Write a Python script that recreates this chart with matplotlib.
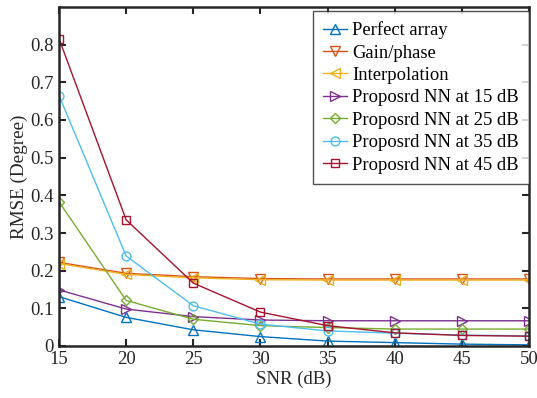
import matplotlib
matplotlib.use("Agg")
import matplotlib.pyplot as plt

plt.rcParams['font.family'] = ['Liberation Serif', 'DejaVu Serif']

snr = [15, 20, 25, 30, 35, 40, 45, 50]
perfect = [0.131, 0.076, 0.043, 0.025, 0.013, 0.009, 0.005, 0.003]
gain_phase = [0.222, 0.193, 0.184, 0.179, 0.178, 0.178, 0.178, 0.178]
interp = [0.219, 0.190, 0.181, 0.176, 0.175, 0.175, 0.175, 0.175]
nn15 = [0.149, 0.098, 0.078, 0.069, 0.067, 0.067, 0.067, 0.067]
nn25 = [0.383, 0.121, 0.071, 0.054, 0.049, 0.045, 0.045, 0.045]
nn35 = [0.665, 0.239, 0.107, 0.058, 0.040, 0.034, 0.029, 0.027]
nn45 = [0.816, 0.335, 0.167, 0.090, 0.054, 0.035, 0.028, 0.026]

labels = ['Perfect array', 'Gain/phase', 'Interpolation',
          'Proposrd NN at 15 dB', 'Proposrd NN at 25 dB',
          'Proposrd NN at 35 dB', 'Proposrd NN at 45 dB']
series = [perfect, gain_phase, interp, nn15, nn25, nn35, nn45]
colors = ['#0072BD', '#D95319', '#EDB120', '#7E2F8E', '#77AC30', '#4DBEEE', '#A2142F']
markers = ['^', 'v', '<', '>', 'D', 'o', 's']
msizes = [7.2, 7.2, 7.2, 7.2, 4.8, 6.4, 5.2]

fig = plt.figure(figsize=(5.37, 3.98), dpi=100)
ax = fig.add_axes([59/537, 1-346/398, 470/537, 339/398])

for y, lab, c, m, ms in zip(series, labels, colors, markers, msizes):
    ax.plot(snr, y, color=c, marker=m, markersize=ms, markerfacecolor='none',
            markeredgewidth=1.0, linewidth=1.0, label=lab)

ax.set_xlim(15, 50)
ax.set_ylim(0, 0.9)
ax.set_xticks([15, 20, 25, 30, 35, 40, 45, 50])
ax.set_yticks([0, 0.1, 0.2, 0.3, 0.4, 0.5, 0.6, 0.7, 0.8])
ax.set_yticklabels(['0', '0.1', '0.2', '0.3', '0.4', '0.5', '0.6', '0.7', '0.8'])
ax.tick_params(direction='in', top=True, right=True, length=5, width=1.5,
               labelsize=13.5, colors='#262626')
ax.tick_params(axis='x', pad=3.5)
ax.tick_params(axis='y', pad=4)
for s in ax.spines.values():
    s.set_linewidth(1.8)
    s.set_color('#262626')
ax.set_xlabel('SNR (dB)', fontsize=13.5, color='#262626', labelpad=2)
ax.set_ylabel('RMSE (Degree)', fontsize=13.7, color='#262626', labelpad=1.5)

leg = ax.legend(loc='upper right', bbox_to_anchor=(1.0, 1 - 4/339),
                fontsize=13.4, frameon=True, fancybox=False,
                edgecolor='#262626', borderpad=0.55, labelspacing=0.29,
                handlelength=1.25, handletextpad=0.3, borderaxespad=0.0)
leg.get_frame().set_linewidth(1.0)

fig.savefig('out.png', dpi=100)
